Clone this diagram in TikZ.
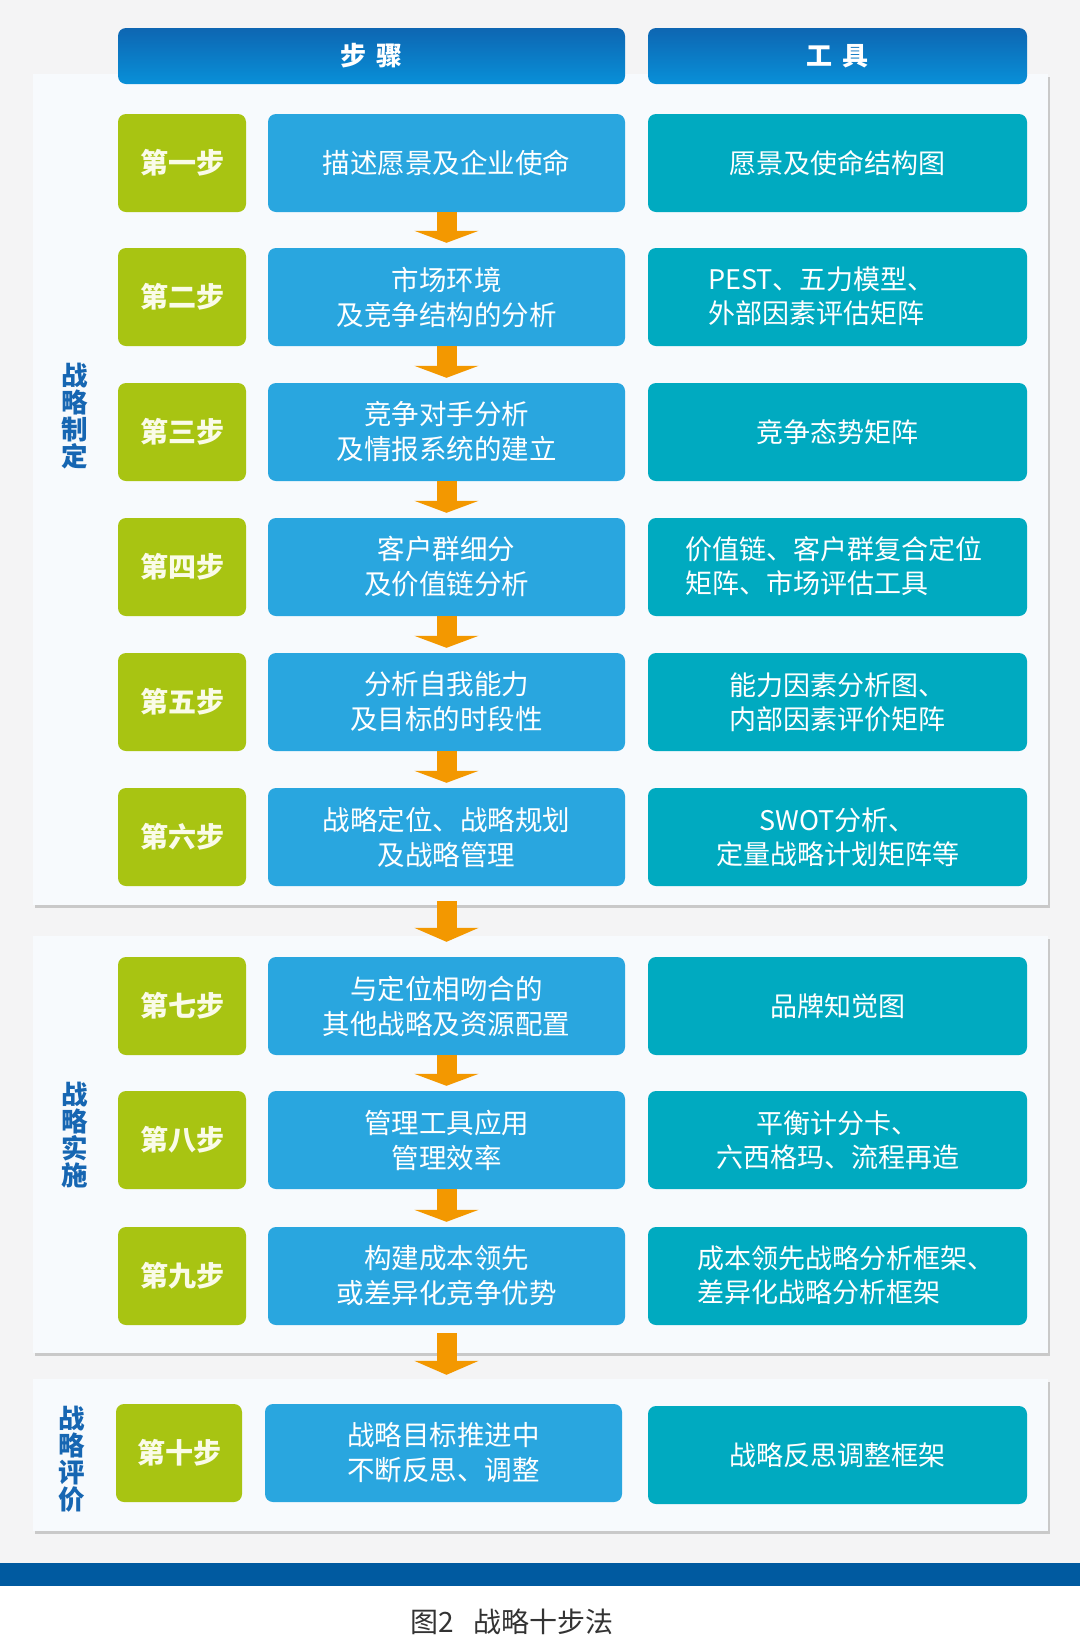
\documentclass[tikz,border=0pt]{standalone}
\usepackage{fontspec}
\setmainfont{Noto Sans CJK SC}
\usetikzlibrary{arrows.meta,shadows}
\definecolor{bgc}{HTML}{F4F4F5}
\definecolor{panelc}{HTML}{F7FAFD}
\definecolor{barc}{HTML}{005AA0}
\definecolor{greenc}{HTML}{A8C412}
\definecolor{bluec}{HTML}{29A6DF}
\definecolor{tealc}{HTML}{00AAC0}
\definecolor{headtop}{HTML}{0E66B2}
\definecolor{headbot}{HTML}{0890D8}
\definecolor{sidec}{HTML}{1666B2}
\definecolor{arrowc}{HTML}{F39800}
\definecolor{creamc}{HTML}{FAFBE8}
\definecolor{capc}{HTML}{333333}
\tikzset{
  panel/.style={fill=panelc, drop shadow={shadow xshift=2pt, shadow yshift=-3pt, opacity=0.3, fill=black!60}},
  headbox/.style={rounded corners=8pt, top color=headtop, bottom color=headbot, draw=none,
    minimum height=56pt, text=white, font=\fontsize{26}{30}\selectfont\bfseries},
  stepbox/.style={rounded corners=8pt, fill=greenc, minimum width=128pt, minimum height=98pt,
    text=creamc, font=\fontsize{28}{33}\selectfont\bfseries},
  actbox/.style={rounded corners=8pt, fill=bluec, minimum width=357pt, minimum height=98pt,
    text=white, align=center, font=\fontsize{27.5}{35}\selectfont},
  toolbox/.style={rounded corners=8pt, fill=tealc, minimum width=379pt, minimum height=98pt,
    text=white, align=center, font=\fontsize{27}{34}\selectfont},
  tooltext/.style={text=white, align=left, anchor=west, inner sep=0pt, font=\fontsize{27}{34}\selectfont},
  sidelabel/.style={text=sidec, align=center, font=\fontsize{26.5}{27}\selectfont\bfseries},
  flow/.style={draw=arrowc, line width=20pt, -{Triangle[width=64pt,length=12pt]}, shorten >=5pt},
  flowlong/.style={draw=arrowc, line width=20pt, -{Triangle[width=64pt,length=14pt]}}
}
\begin{document}
\begin{tikzpicture}[x=1pt,y=-1pt]
\useasboundingbox (0,0) rectangle (1080,1639);
\fill[bgc] (0,0) rectangle (1080,1563);
\fill[barc] (0,1563) rectangle (1080,1586);
\fill[white] (0,1586) rectangle (1080,1639);

% panels
\path[panel] (33,74) rectangle (1048,905);
\path[panel] (33,936) rectangle (1048,1353);
\path[panel] (33,1379) rectangle (1048,1531);

% headers
\node[headbox, minimum width=507pt] (h1) at (371.5,56) {步\hspace{0.4em}骤};
\node[headbox, minimum width=379pt] (h2) at (837.5,56) {工\hspace{0.4em}具};

% side labels
\node[sidelabel] (s1) at (75,416) {战\\略\\制\\定};
\node[sidelabel] (s2) at (75,1135) {战\\略\\实\\施};
\node[sidelabel] (s3) at (72,1459) {战\\略\\评\\价};

% row 1
\node[stepbox] (g1) at (182,163) {第一步};
\node[actbox] (b1) at (446.5,163) {描述愿景及企业使命};
\node[toolbox] (t1) at (837.5,163) {愿景及使命结构图};
% row 2
\node[stepbox] (g2) at (182,297) {第二步};
\node[actbox] (b2) at (446.5,297) {市场环境\\及竞争结构的分析};
\node[toolbox] (t2) at (837.5,297) {};
\node[tooltext] (tt2) at (708,296) {PEST、五力模型、\\外部因素评估矩阵};
% row 3
\node[stepbox] (g3) at (182,432) {第三步};
\node[actbox] (b3) at (446.5,432) {竞争对手分析\\及情报系统的建立};
\node[toolbox] (t3) at (837.5,432) {竞争态势矩阵};
% row 4
\node[stepbox] (g4) at (182,567) {第四步};
\node[actbox] (b4) at (446.5,567) {客户群细分\\及价值链分析};
\node[toolbox] (t4) at (837.5,567) {};
\node[tooltext] (tt4) at (685,566) {价值链、客户群复合定位\\矩阵、市场评估工具};
% row 5
\node[stepbox] (g5) at (182,702) {第五步};
\node[actbox] (b5) at (446.5,702) {分析自我能力\\及目标的时段性};
\node[toolbox] (t5) at (837.5,702) {能力因素分析图、\\内部因素评价矩阵};
% row 6
\node[stepbox] (g6) at (182,837) {第六步};
\node[actbox] (b6) at (446.5,837) {战略定位、战略规划\\及战略管理};
\node[toolbox] (t6) at (837.5,837) {SWOT分析、\\定量战略计划矩阵等};
% row 7
\node[stepbox] (g7) at (182,1006) {第七步};
\node[actbox] (b7) at (446.5,1006) {与定位相吻合的\\其他战略及资源配置};
\node[toolbox] (t7) at (837.5,1006) {品牌知觉图};
% row 8
\node[stepbox] (g8) at (182,1140) {第八步};
\node[actbox] (b8) at (446.5,1140) {管理工具应用\\管理效率};
\node[toolbox] (t8) at (837.5,1140) {平衡计分卡、\\六西格玛、流程再造};
% row 9
\node[stepbox] (g9) at (182,1276) {第九步};
\node[actbox] (b9) at (446.5,1276) {构建成本领先\\或差异化竞争优势};
\node[toolbox] (t9) at (837.5,1276) {};
\node[tooltext] (tt9) at (697,1275) {成本领先战略分析框架、\\差异化战略分析框架};
% row 10
\node[stepbox, minimum width=126pt] (g10) at (179,1453) {第十步};
\node[actbox] (b10) at (443.5,1453) {战略目标推进中\\不断反思、调整};
\node[toolbox] (t10) at (837.5,1455) {战略反思调整框架};

% arrows
\draw[flow] (b1.south) -- (b2.north);
\draw[flow] (b2.south) -- (b3.north);
\draw[flow] (b3.south) -- (b4.north);
\draw[flow] (b4.south) -- (b5.north);
\draw[flow] (b5.south) -- (b6.north);
\draw[flowlong, shorten <=15pt, shorten >=15pt] (b6.south) -- (b7.north);
\draw[flow] (b7.south) -- (b8.north);
\draw[flow] (b8.south) -- (b9.north);
\draw[flowlong, shorten <=8pt, shorten >=29pt] (b9.south) -- (b9.south |- b10.north);

% caption
\node[text=capc, font=\fontsize{28}{32}\selectfont] (cap) at (512,1622) {图2\hspace{0.7em}战略十步法};
\end{tikzpicture}
\end{document}
